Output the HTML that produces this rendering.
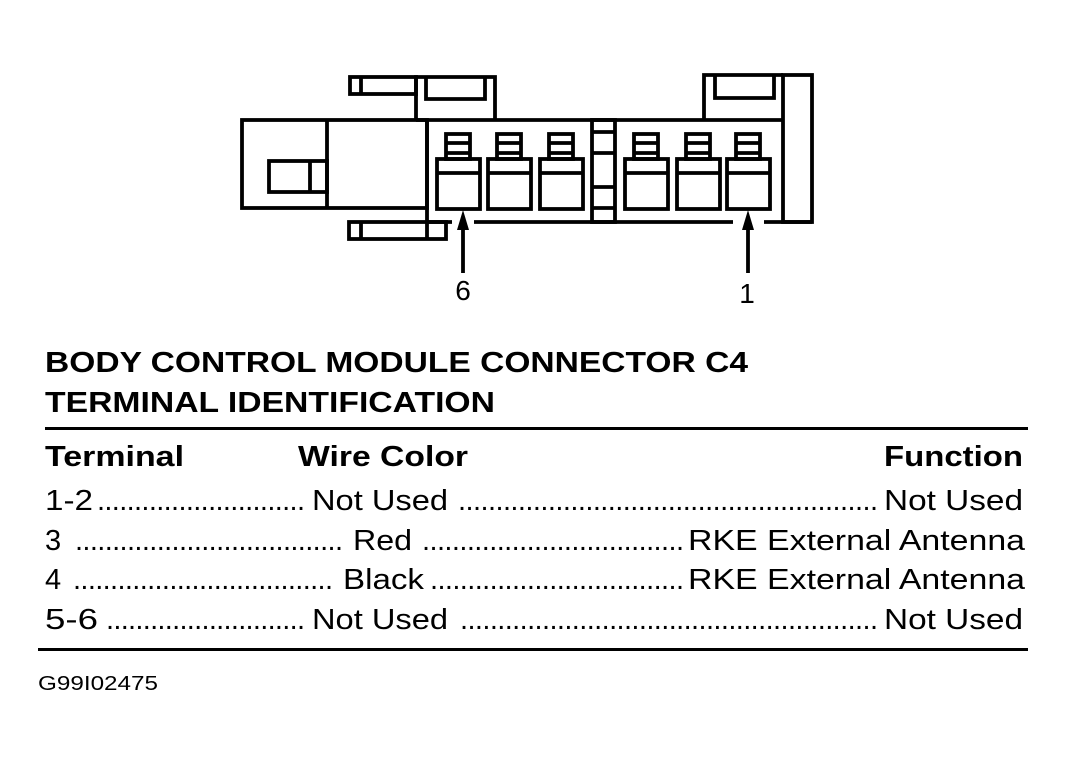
<!DOCTYPE html>
<html><head><meta charset="utf-8"><style>
html,body{margin:0;padding:0;background:#fff;}
svg{display:block;}
text{font-family:"Liberation Sans",Arial,sans-serif;fill:#000;}
</style></head><body>
<svg width="1067" height="763" viewBox="0 0 1067 763" xmlns="http://www.w3.org/2000/svg">
<g fill="none" stroke="#000" stroke-width="3.8">
  <rect x="242" y="120" width="185" height="88"/>
  <line x1="327" y1="120" x2="327" y2="208"/>
  <rect x="269" y="161" width="58" height="31"/>
  <line x1="310" y1="161" x2="310" y2="192"/>
  <rect x="350" y="77" width="66" height="17"/>
  <line x1="361" y1="77" x2="361" y2="94"/>
  <polyline points="416,120 416,77 495,77 495,120"/>
  <polyline points="426,77 426,99 485,99 485,77"/>
  <rect x="349" y="222" width="97" height="17"/>
  <line x1="361" y1="222" x2="361" y2="239"/>
  <line x1="427" y1="120" x2="427" y2="239"/>
  <line x1="416" y1="120" x2="783" y2="120"/>
  <line x1="427" y1="222" x2="452" y2="222"/>
  <line x1="474" y1="222" x2="733" y2="222"/>
  <line x1="764" y1="222" x2="812" y2="222"/>
  <polyline points="704,120 704,75 783,75"/>
  <polyline points="715,75 715,98 774,98 774,75"/>
  <rect x="783" y="75" width="29" height="147"/>
  <rect x="592" y="120" width="23" height="102"/>
  <line x1="592" y1="132" x2="615" y2="132"/>
  <line x1="592" y1="153" x2="615" y2="153"/>
  <line x1="592" y1="187" x2="615" y2="187"/>
  <line x1="592" y1="208" x2="615" y2="208"/>
  <g id="t">
    <rect x="437" y="159" width="43" height="50"/>
    <line x1="437" y1="173" x2="480" y2="173"/>
    <rect x="446" y="134" width="24" height="25"/>
    <line x1="446" y1="143" x2="470" y2="143"/>
    <line x1="446" y1="153" x2="470" y2="153"/>
  </g>
  <use href="#t" x="51"/>
  <use href="#t" x="103"/>
  <use href="#t" x="188"/>
  <use href="#t" x="240"/>
  <use href="#t" x="290"/>
  <line x1="463" y1="226" x2="463" y2="273"/>
  <line x1="748" y1="226" x2="748" y2="273"/>
</g>
<polygon points="463,210 457,230 469,230" fill="#000"/>
<polygon points="748,210 742,230 754,230" fill="#000"/>
<text x="463" y="300" font-size="28" text-anchor="middle">6</text>
<text x="747" y="303" font-size="28" text-anchor="middle">1</text>

<text x="45" y="372" font-size="29" font-weight="bold" textLength="703" lengthAdjust="spacingAndGlyphs">BODY CONTROL MODULE CONNECTOR C4</text>
<text x="45" y="412" font-size="29" font-weight="bold" textLength="450" lengthAdjust="spacingAndGlyphs">TERMINAL IDENTIFICATION</text>
<rect x="45" y="427" width="983" height="3" fill="#000"/>

<text x="45" y="466" font-size="29" font-weight="bold" textLength="139" lengthAdjust="spacingAndGlyphs">Terminal</text>
<text x="298" y="466" font-size="29" font-weight="bold" textLength="170" lengthAdjust="spacingAndGlyphs">Wire Color</text>
<text x="884" y="466" font-size="29" font-weight="bold" textLength="139" lengthAdjust="spacingAndGlyphs">Function</text>

<g font-size="29">
<text x="45" y="510" textLength="48" lengthAdjust="spacingAndGlyphs">1-2</text>
<text x="97" y="510" textLength="208" lengthAdjust="spacing">............................</text>
<text x="312" y="510" textLength="136" lengthAdjust="spacingAndGlyphs">Not Used</text>
<text x="458" y="510" textLength="420" lengthAdjust="spacing">........................................................</text>
<text x="884" y="510" textLength="139" lengthAdjust="spacingAndGlyphs">Not Used</text>

<text x="45" y="550">3</text>
<text x="75" y="550" textLength="268" lengthAdjust="spacing">....................................</text>
<text x="353" y="550" textLength="59" lengthAdjust="spacingAndGlyphs">Red</text>
<text x="422" y="550" textLength="262" lengthAdjust="spacing">...................................</text>
<text x="688" y="550" textLength="337" lengthAdjust="spacingAndGlyphs">RKE External Antenna</text>

<text x="45" y="589">4</text>
<text x="73" y="589" textLength="260" lengthAdjust="spacing">...................................</text>
<text x="343" y="589" textLength="81" lengthAdjust="spacingAndGlyphs">Black</text>
<text x="430" y="589" textLength="254" lengthAdjust="spacing">..................................</text>
<text x="688" y="589" textLength="337" lengthAdjust="spacingAndGlyphs">RKE External Antenna</text>

<text x="45" y="629" textLength="53" lengthAdjust="spacingAndGlyphs">5-6</text>
<text x="106" y="629" textLength="199" lengthAdjust="spacing">...........................</text>
<text x="312" y="629" textLength="136" lengthAdjust="spacingAndGlyphs">Not Used</text>
<text x="460" y="629" textLength="418" lengthAdjust="spacing">........................................................</text>
<text x="884" y="629" textLength="139" lengthAdjust="spacingAndGlyphs">Not Used</text>
</g>
<rect x="38" y="648" width="990" height="3" fill="#000"/>
<text x="38" y="690" font-size="20" textLength="120" lengthAdjust="spacingAndGlyphs">G99I02475</text>
</svg>
</body></html>
